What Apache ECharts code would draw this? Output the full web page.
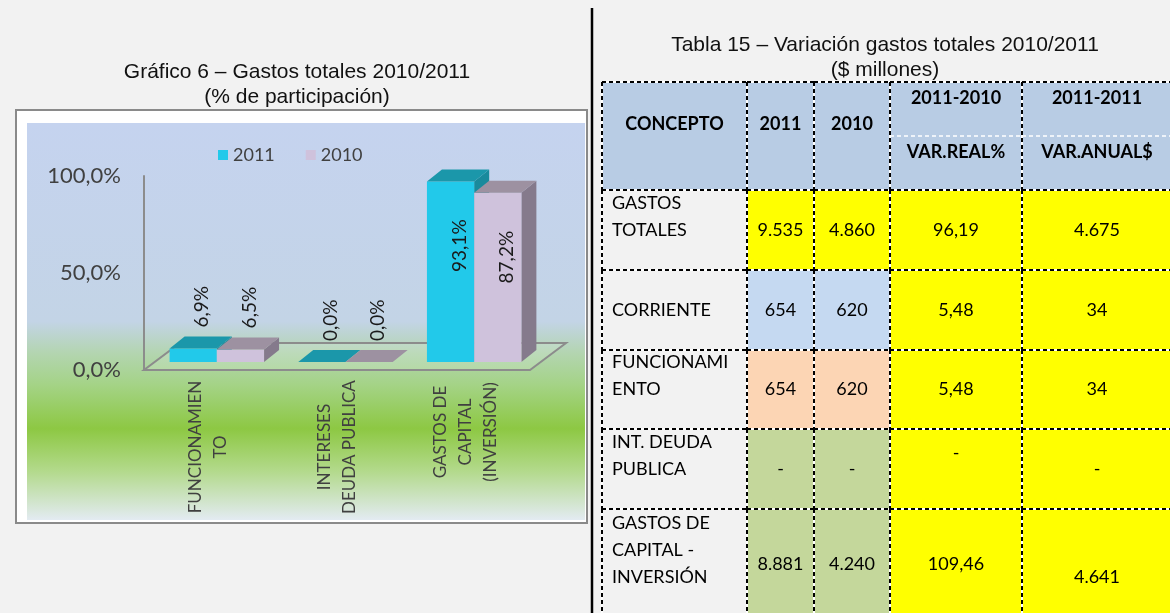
<!DOCTYPE html>
<html>
<head>
<meta charset="utf-8">
<script src="https://cdn.jsdelivr.net/npm/echarts@6/dist/echarts.min.js"></script>
<style>
  html, body { margin: 0; padding: 0; background: #f2f2f2; }
  #main { width: 1170px; height: 613px; }
</style>
</head>
<body>
<div id="main"></div>
<script>
// gráfico: % de participación
const categories = ['FUNCIONAMIEN\nTO', 'INTERESES\nDEUDA PUBLICA', 'GASTOS DE\nCAPITAL\n(INVERSIÓN)'];
const share2011 = [6.9, 0.0, 93.1];
const share2010 = [6.5, 0.0, 87.2];

// tabla 15
const headerTop = ['CONCEPTO', '2011', '2010', '2011-2010', '2011-2011'];
const headerSub = ['', '', '', 'VAR.REAL%', 'VAR.ANUAL$'];
const conceptos = ['GASTOS\nTOTALES', 'CORRIENTE', 'FUNCIONAMI\nENTO', 'INT. DEUDA\nPUBLICA', 'GASTOS DE\nCAPITAL -\nINVERSIÓN'];
const gastos2011 = ['9.535', '654', '654', '-', '8.881'];
const gastos2010 = ['4.860', '620', '620', '-', '4.240'];
const varReal = ['96,19', '5,48', '5,48', '-', '109,46'];
const varAnual = ['4.675', '34', '34', '-', '4.641'];

const tableCols = [conceptos, gastos2011, gastos2010, varReal, varAnual];

// layout of the table (grid units = px)
const colEdges = [0, 145, 212, 288, 420, 570];
const rowEdges = [0, 108, 188, 268, 347, 427, 535];
const rowFill = ['#ffff00', '#c5d9f1', '#fcd5b4', '#c4d79b', '#c4d79b'];
const lift = { '5,1': 13, '5,2': 13, '5,3': 13, '4,3': 16 };

const fmtPct = v => v.toFixed(1).replace('.', ',') + '%';

function bar3d(which, front, top, side) {
  return function (params, api) {
    const cat = api.value(0);
    const v = api.value(1);
    const base = api.coord([cat, 0]);
    const tip = api.coord([cat, v]);
    const band = api.size([1, 0])[0];
    const w = band * 0.367;
    const mid = base[0] + band * 0.066;
    const x0 = which === 0 ? mid - w : mid;
    const x1 = x0 + w;
    const yb = base[1] - 8;
    const yt = tip[1] - 8;
    const dx = 15, dy = -12;
    const kids = [];
    if (yb - yt > 0.5) {
      kids.push({ type: 'polygon', shape: { points: [[x1, yb], [x1 + dx, yb + dy], [x1 + dx, yt + dy], [x1, yt]] }, style: { fill: side } });
      kids.push({ type: 'polygon', shape: { points: [[x0, yb], [x1, yb], [x1, yt], [x0, yt]] }, style: { fill: front } });
    }
    kids.push({ type: 'polygon', shape: { points: [[x0, yt], [x1, yt], [x1 + dx, yt + dy], [x0 + dx, yt + dy]] }, style: { fill: top } });
    const inside = v > 50;
    kids.push({
      type: 'text',
      x: x0 + w / 2 + 9,
      y: inside ? yt + 38 : yt + dy - 9,
      rotation: Math.PI / 2,
      style: {
        text: fmtPct(v), fill: '#1a1a1a', font: '19px Lato',
        align: inside ? 'right' : 'left', verticalAlign: 'middle'
      },
      z2: 20
    });
    return { type: 'group', children: kids };
  };
}

function renderFloor(params, api) {
  const cs = params.coordSys;
  const y0 = cs.y + cs.height, x0 = cs.x, x1 = cs.x + cs.width;
  return {
    type: 'polygon',
    shape: { points: [[x0, y0], [x1, y0], [x1 + 36, y0 - 27], [x0 + 36, y0 - 27]] },
    style: { fill: 'rgba(255,255,255,0.12)', stroke: '#8c8c8c', lineWidth: 2 }
  };
}

function txt(s, x, y, align, va, bold) {
  return {
    type: 'text', x, y,
    style: { text: s, fill: '#000', font: (bold ? 'bold ' : '') + '18px Lato', align, verticalAlign: va, lineHeight: 27 },
    z2: 20
  };
}

// one dashed border segment: white underlay + black dashes
function edgeLine(x1, y1, x2, y2) {
  return [
    { type: 'line', shape: { x1, y1, x2, y2 }, style: { stroke: '#fff', lineWidth: 2 }, z2: 5 },
    { type: 'line', shape: { x1, y1, x2, y2 }, style: { stroke: '#000', lineWidth: 2, lineDash: [4, 3] }, z2: 10 }
  ];
}

function renderCell(params, api) {
  const c = api.value(0), r = api.value(1);
  const a = api.coord([colEdges[c], rowEdges[r]]);
  const b = api.coord([colEdges[c + 1], rowEdges[r + 1]]);
  const x = a[0], y = a[1], w = b[0] - a[0], h = b[1] - a[1];
  let kids = [];
  let fill = null;
  if (r === 0) fill = '#b8cce4';
  else if (c === 1 || c === 2) fill = rowFill[r - 1];
  else if (c >= 3) fill = '#ffff00';
  if (fill) kids.push({ type: 'rect', shape: { x, y, width: w, height: h }, style: { fill }, z2: 0 });
  // left + top edges, right/bottom only on the outer cells
  kids = kids.concat(edgeLine(x, y, x, y + h), edgeLine(x, y, x + w, y));
  if (c === colEdges.length - 2) kids = kids.concat(edgeLine(x + w, y, x + w, y + h));
  if (r === rowEdges.length - 2) kids = kids.concat(edgeLine(x, y + h, x + w, y + h));
  if (r === 0) {
    if (c < 3) {
      kids.push(txt(headerTop[c], x + w / 2, y + 42, 'center', 'middle', true));
    } else {
      kids.push(txt(headerTop[c], x + w / 2, y + 16, 'center', 'middle', true));
      kids.push(txt(headerSub[c], x + w / 2, y + 70, 'center', 'middle', true));
      kids.push({ type: 'line', shape: { x1: x, y1: y + 54, x2: x + w, y2: y + 54 }, style: { stroke: '#fff', lineWidth: 1.5, lineDash: [4, 3] }, z2: 10 });
    }
  } else {
    const up = lift[r + ',' + c] || 0;
    kids.push(txt(tableCols[c][r - 1], c === 0 ? x + 10 : x + w / 2, y + h - 26 - up, c === 0 ? 'left' : 'center', 'bottom', false));
  }
  return { type: 'group', children: kids };
}

const cells = [];
for (let r = 0; r <= conceptos.length; r++) {
  for (let c = 0; c < headerTop.length; c++) cells.push([c, r]);
}

const catLabel = {
  rotate: 90, align: 'center', verticalAlign: 'middle', interval: 0,
  fontFamily: 'Lato', fontSize: 17, lineHeight: 25, color: '#404040'
};

const chart = echarts.init(document.getElementById('main'));
chart.setOption({
  animation: false,
  backgroundColor: '#f2f2f2',
  title: [
    {
      text: 'Gráfico 6 – Gastos totales 2010/2011\n(% de participación)',
      left: 297, top: 60, textAlign: 'center', padding: 0,
      textStyle: { fontFamily: 'Liberation Sans', fontSize: 21, fontWeight: 'normal', color: '#111', lineHeight: 25 }
    },
    {
      text: 'Tabla 15 – Variación gastos totales 2010/2011\n($ millones)',
      left: 885, top: 33, textAlign: 'center', padding: 0,
      textStyle: { fontFamily: 'Liberation Sans', fontSize: 21, fontWeight: 'normal', color: '#111', lineHeight: 25 }
    }
  ],
  graphic: [
    { type: 'rect', shape: { x: 16, y: 110, width: 571, height: 413 }, style: { fill: '#fff', stroke: '#8a8a8a', lineWidth: 2 } },
    {
      type: 'rect', shape: { x: 27, y: 123, width: 558, height: 397 },
      style: {
        fill: {
          type: 'linear', x: 0, y: 0, x2: 0, y2: 1,
          colorStops: [
            { offset: 0, color: '#c5d3ef' },
            { offset: 0.5, color: '#c3d4e6' },
            { offset: 0.58, color: '#b3d5b0' },
            { offset: 0.66, color: '#a4d386' },
            { offset: 0.77, color: '#8dc843' },
            { offset: 0.88, color: '#b4da8e' },
            { offset: 1, color: '#e3ebf2' }
          ]
        }
      }
    },
    { type: 'line', shape: { x1: 592, y1: 8, x2: 592, y2: 613 }, style: { stroke: '#000', lineWidth: 2.5 } }
  ],
  legend: {
    data: ['2011', '2010'],
    left: 218, top: 146, padding: 0,
    icon: 'rect', itemWidth: 10, itemHeight: 10, itemGap: 31,
    textStyle: { fontFamily: 'Lato', fontSize: 18, color: '#404040' }
  },
  grid: [
    { left: 144, right: 640, top: 176, bottom: 243, outerBoundsMode: 'none' },
    { left: 602, top: 82, width: 570, height: 535, outerBoundsMode: 'none' }
  ],
  xAxis: [
    {
      type: 'category', gridIndex: 0, position: 'bottom', data: categories,
      axisLine: { show: false }, axisTick: { show: false },
      axisLabel: Object.assign({ margin: 77, formatter: (v, i) => i === 2 ? '' : v }, catLabel)
    },
    { type: 'value', gridIndex: 1, min: 0, max: 570, show: false },
    {
      type: 'category', gridIndex: 0, position: 'bottom', offset: 0, data: categories,
      axisLine: { show: false }, axisTick: { show: false },
      axisLabel: Object.assign({ margin: 62, formatter: (v, i) => i === 2 ? v : '' }, catLabel)
    }
  ],
  yAxis: [
    {
      type: 'value', gridIndex: 0, min: 0, max: 100, interval: 50,
      axisLine: { show: true, lineStyle: { color: '#8c8c8c', width: 2 } },
      axisTick: { show: false }, splitLine: { show: false },
      axisLabel: { formatter: fmtPct, margin: 23, fontFamily: 'Lato', fontSize: 22, color: '#404040' }
    },
    { type: 'value', gridIndex: 1, min: 0, max: 535, inverse: true, show: false }
  ],
  series: [
    { type: 'custom', name: 'floor', xAxisIndex: 0, yAxisIndex: 0, data: [[0, 0]], renderItem: renderFloor, silent: true, z: 1 },
    {
      type: 'custom', name: '2011', xAxisIndex: 0, yAxisIndex: 0,
      itemStyle: { color: '#22c9ea' },
      data: share2011.map((v, i) => [i, v]),
      renderItem: bar3d(0, '#22c9ea', '#1b97aa', '#198a9c')
    },
    {
      type: 'custom', name: '2010', xAxisIndex: 0, yAxisIndex: 0,
      itemStyle: { color: '#cfc2dc' },
      data: share2010.map((v, i) => [i, v]),
      renderItem: bar3d(1, '#cfc2dc', '#9d91a1', '#857a8c')
    },
    { type: 'custom', name: 'tabla', xAxisIndex: 1, yAxisIndex: 1, data: cells, renderItem: renderCell, silent: true }
  ]
});
</script>
</body>
</html>
